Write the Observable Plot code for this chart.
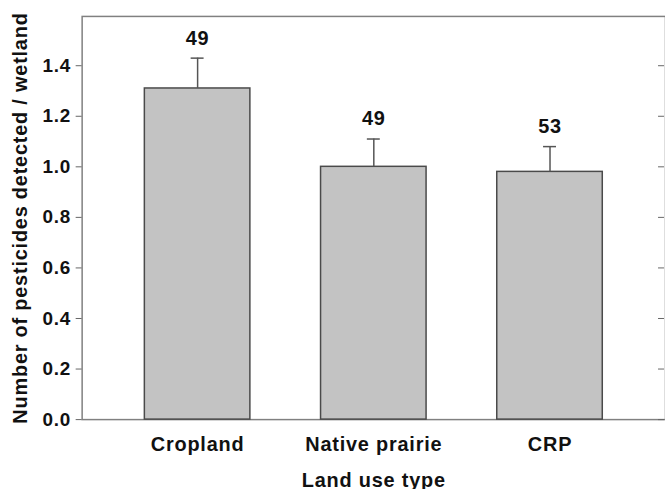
<!DOCTYPE html>
<html><head><meta charset="utf-8">
<script src="https://cdn.jsdelivr.net/npm/d3@7"></script>
<script src="https://cdn.jsdelivr.net/npm/@observablehq/plot@0.6"></script>
<style>html,body{margin:0;padding:0;overflow:hidden;background:#fff}</style>
</head><body><div id="chart"></div>
<script>
const categories = ["Cropland", "Native prairie", "CRP"];
const means = [1.31, 1.00, 0.98];
const errors = [0.12, 0.11, 0.10];
const sampleSizes = [49, 49, 53];
const yTicks = [0, 0.2, 0.4, 0.6, 0.8, 1.0, 1.2, 1.4];
const xTitle = "Land use type";
const yTitle = "Number of pesticides detected / wetland";

const data = categories.map((c, i) => ({category: c, mean: means[i], upper: means[i] + errors[i], n: sampleSizes[i]}));

const font = "'Liberation Sans', Arial, Helvetica, sans-serif";
const chart = Plot.plot({
  width: 668, height: 491,
  marginLeft: 82, marginRight: 0, marginTop: 16, marginBottom: 70,
  style: `font-family: ${font}; font-weight: bold; font-size: 20px; letter-spacing: 0.8px; color: #111; background: #fff; overflow: visible;`,
  x: {domain: categories, paddingInner: 0.4, paddingOuter: 0.35, axis: null},
  y: {domain: [0, 1.595], axis: null},
  marks: [
    Plot.frame({stroke: "#808080", strokeWidth: 1.5}),
    Plot.barY(data, {x: "category", y: "mean", fill: "#c3c3c3", stroke: "#4a4a4a", strokeWidth: 1.5}),
    Plot.ruleX(data, {x: "category", y1: "mean", y2: "upper", stroke: "#555", strokeWidth: 1.5}),
    Plot.tickY(data, {x: "category", y: "upper", stroke: "#555", strokeWidth: 1.5, insetLeft: 46.5, insetRight: 46.5}),
    Plot.text(data, {x: "category", y: "upper", text: d => String(d.n), dy: -20, lineAnchor: "middle", fontSize: 20, fontWeight: "bold", fill: "#111"}),
    Plot.axisY({ticks: yTicks, tickFormat: d3.format(".1f"), tickSize: 6, tickPadding: 5, fontSize: 19, label: null, stroke: "#666", fill: "#111"}),
    Plot.axisY({anchor: "right", ticks: yTicks, tickFormat: () => "", tickSize: 6, dx: -8, label: null, stroke: "#666"}),
    Plot.axisX({tickSize: 0, tickPadding: 17, label: null, fontSize: 20, fill: "#111"}),
    Plot.text([xTitle], {frameAnchor: "bottom", lineAnchor: "middle", textAnchor: "middle", dy: 61, text: d => d, fontSize: 20, fontWeight: "bold", fill: "#111"}),
    Plot.text([yTitle], {frameAnchor: "left", lineAnchor: "middle", textAnchor: "middle", dx: -62, rotate: -90, text: d => d, fontSize: 20, fontWeight: "bold", fill: "#111"})
  ]
});
document.getElementById("chart").appendChild(chart);
</script>
</body></html>
